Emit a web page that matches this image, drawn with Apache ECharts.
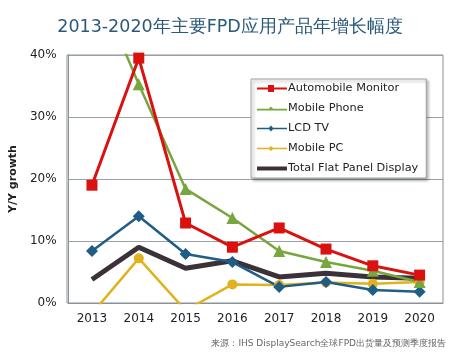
<!DOCTYPE html>
<html>
<head>
<meta charset="utf-8">
<script src="https://cdn.jsdelivr.net/npm/echarts@6/dist/echarts.min.js"></script>
<style>
html, body { margin: 0; padding: 0; background: #fff; }
#chart { width: 460px; height: 353px; }
</style>
</head>
<body>
<div id="chart"></div>
<script type="text/javascript">
    var years = ['2013', '2014', '2015', '2016', '2017', '2018', '2019', '2020'];
    var automobile = [19.0, 39.5, 12.9, 9.0, 12.1, 8.7, 6.0, 4.5];
    var mobilePhone = [53.0, 35.3, 18.4, 13.7, 8.4, 6.6, 5.2, 3.4];
    var lcdTv = [8.4, 14.0, 7.9, 6.6, 2.6, 3.4, 2.1, 1.8];
    var mobilePc = [-1.7, 7.2, -1.2, 3.0, 2.9, 3.3, 3.1, 3.4];
    var totalFpd = [3.8, 9.0, 5.6, 6.8, 4.2, 4.8, 4.2, 4.0];

    var myChart = echarts.init(document.getElementById('chart'));
    var font = 'Verdana, "DejaVu Sans", sans-serif';

    function line(name, data, color, width, symbol, size) {
        return {
            name: name,
            type: 'line',
            data: data,
            symbol: symbol,
            symbolSize: size,
            showSymbol: symbol !== 'none',
            clip: true,
            lineStyle: { color: color, width: width },
            itemStyle: { color: color },
            emphasis: { disabled: true }
        };
    }

    var option = {
        animation: false,
        title: [{
            text: '2013-2020年主要FPD应用产品年增长幅度',
            left: 'center',
            top: 13,
            textStyle: { color: '#2b5a78', fontSize: 17.5, fontWeight: 'normal', fontFamily: font }
        }, {
            text: '来源：IHS DisplaySearch全球FPD出货量及预测季度报告',
            right: 9,
            top: 334,
            textStyle: { color: '#666', fontSize: 9, fontWeight: 'normal', fontFamily: font }
        }],
        legend: {
            orient: 'vertical',
            left: 251,
            top: 79,
            width: 176,
            padding: [4, 8, 4, 6],
            itemGap: 9,
            itemWidth: 30,
            itemHeight: 13,
            backgroundColor: '#fff',
            borderColor: '#9aa3a8',
            borderWidth: 1,
            shadowColor: 'rgba(0,0,0,0.35)',
            shadowBlur: 3,
            shadowOffsetX: 2,
            shadowOffsetY: 2,
            textStyle: { color: '#222', fontSize: 11.3, fontFamily: font, padding: [0, 0, 0, -4] },
            data: [
                { name: 'Automobile Monitor', icon: 'path://M0,5.5 L11,5.5 L11,3 L17,3 L17,5.5 L30,5.5 L30,7.5 L17,7.5 L17,10 L11,10 L11,7.5 L0,7.5 Z' },
                { name: 'Mobile Phone', icon: 'path://M0,5.7 L12,5.7 L14,3.5 L16,5.7 L30,5.7 L30,7.3 L0,7.3 Z' },
                { name: 'LCD TV', icon: 'path://M0,5.7 L12,5.7 L14,3.5 L16,5.7 L30,5.7 L30,7.3 L16,7.3 L14,9.5 L12,7.3 L0,7.3 Z' },
                { name: 'Mobile PC', icon: 'path://M0,5.7 L12,5.7 L14,4 L16,5.7 L30,5.7 L30,7.3 L16,7.3 L14,9 L12,7.3 L0,7.3 Z' },
                { name: 'Total Flat Panel Display', icon: 'path://M0,4.5 L30,4.5 L30,8.5 L0,8.5 Z' }
            ]
        },
        grid: { left: 67, right: 17, top: 55, bottom: 50 },
        xAxis: {
            type: 'category',
            data: years,
            boundaryGap: true,
            axisLine: { show: true, lineStyle: { color: '#8a9296', width: 1 } },
            axisTick: { show: false },
            axisLabel: { color: '#222', fontSize: 12, fontFamily: font, margin: 10 }
        },
        yAxis: {
            type: 'value',
            min: 0,
            max: 40,
            interval: 10,
            name: 'Y/Y growth',
            nameLocation: 'middle',
            nameGap: 39,
            nameTextStyle: { color: '#222', fontSize: 11, fontWeight: 'bold', fontFamily: font },
            axisLine: { show: true, lineStyle: { color: '#8a9296', width: 1 } },
            axisTick: { show: false },
            axisLabel: { color: '#222', fontSize: 12, fontFamily: font, formatter: '{value}%', margin: 12 },
            splitLine: { show: true, lineStyle: { color: '#9aa1a5', width: 1 } }
        },
        series: [
            line('Total Flat Panel Display', totalFpd, '#3b3239', 5, 'none', 0),
            line('Mobile PC', mobilePc, '#e0b21e', 2.5, 'circle', 10),
            line('LCD TV', lcdTv, '#1f5d86', 2.5, 'diamond', 12),
            line('Mobile Phone', mobilePhone, '#77a63e', 2.5, 'triangle', 12),
            line('Automobile Monitor', automobile, '#d9120f', 3, 'rect', 11)
        ]
    };

    // right frame of the plot area
    option.graphic = [{
        type: 'rect',
        shape: { x: 67, y: 55, width: 376, height: 248 },
        style: { fill: 'none', stroke: '#8a9296', lineWidth: 1 },
        silent: true,
        z: 0
    }];

    myChart.setOption(option);
</script>
</body>
</html>
